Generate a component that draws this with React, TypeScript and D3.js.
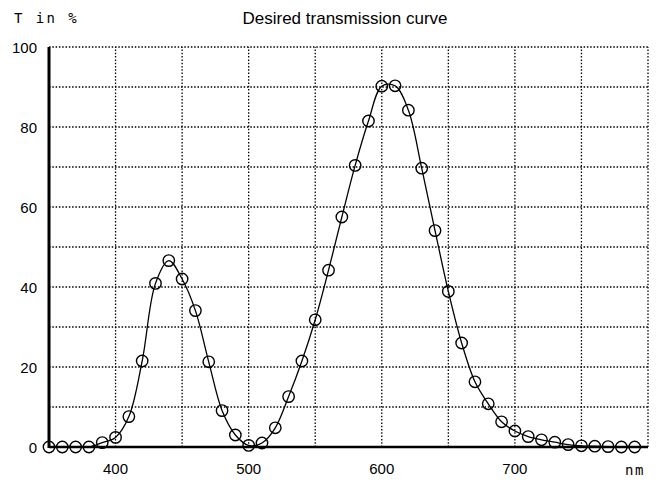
import React, { useRef, useEffect } from "react";
import * as d3 from "d3";

const wavelengths = d3.range(350, 800, 10);
const transmission = [
  0, 0, 0, 0, 1.1, 2.4, 7.6, 21.5, 40.9, 46.6,
  42, 34.1, 21.3, 9.1, 3, 0.4, 1, 4.8, 12.6, 21.5,
  31.8, 44.2, 57.5, 70.4, 81.5, 90.2, 90.3, 84.2, 69.7, 54.1,
  38.9, 26, 16.3, 10.8, 6.3, 4, 2.6, 1.8, 1.2, 0.6,
  0.3, 0.2, 0.1, 0, 0,
];
const xTickLabels = [400, 500, 600, 700];
const yTickLabels = [0, 20, 40, 60, 80, 100];

const App = () => {
  const svgRef = useRef(null);

  useEffect(() => {
    const svg = d3.select(svgRef.current);
    svg.selectAll("*").remove();

    const width = 656;
    const height = 480;
    const margin = { top: 47, right: 8, bottom: 33, left: 49 };

    const x = d3.scaleLinear().domain([350, 800]).range([margin.left, width - margin.right]);
    const y = d3.scaleLinear().domain([0, 100]).range([height - margin.bottom, margin.top]);

    const font = "'Liberation Sans', Arial, sans-serif";
    const mono = "'DejaVu Sans Mono', monospace";

    // dotted grid
    const grid = svg.append("g")
      .attr("stroke", "#000")
      .attr("stroke-width", 1.3)
      .attr("stroke-dasharray", "1.5,1.8");
    grid.selectAll(".vgrid")
      .data(d3.range(400, 801, 50))
      .enter()
      .append("line")
      .attr("x1", d => x(d))
      .attr("x2", d => x(d))
      .attr("y1", y(0))
      .attr("y2", y(100));
    grid.selectAll(".hgrid")
      .data(d3.range(10, 101, 10))
      .enter()
      .append("line")
      .attr("x1", x(350))
      .attr("x2", x(800))
      .attr("y1", d => y(d))
      .attr("y2", d => y(d));

    // axes lines
    svg.append("line")
      .attr("x1", x(350)).attr("x2", x(800))
      .attr("y1", y(0)).attr("y2", y(0))
      .attr("stroke", "#000").attr("stroke-width", 2.5);
    svg.append("line")
      .attr("x1", x(350)).attr("x2", x(350))
      .attr("y1", y(0) + 1).attr("y2", y(100))
      .attr("stroke", "#000").attr("stroke-width", 3);

    // tick labels
    svg.selectAll(".ylab")
      .data(yTickLabels)
      .enter()
      .append("text")
      .attr("x", 37)
      .attr("y", d => y(d) + 5.5)
      .attr("text-anchor", "end")
      .attr("font-family", font)
      .attr("font-size", 15)
      .text(d => d);

    svg.selectAll(".xlab")
      .data(xTickLabels)
      .enter()
      .append("text")
      .attr("x", d => x(d))
      .attr("y", 474)
      .attr("text-anchor", "middle")
      .attr("font-family", font)
      .attr("font-size", 15)
      .text(d => d);

    svg.append("text")
      .attr("x", 635)
      .attr("y", 475)
      .attr("text-anchor", "middle")
      .attr("font-family", mono)
      .attr("font-size", 14)
      .attr("letter-spacing", 1.5)
      .text("nm");

    svg.append("text")
      .attr("x", 14)
      .attr("y", 23)
      .attr("font-family", mono)
      .attr("font-size", 14)
      .attr("letter-spacing", 2.4)
      .text("T in %");

    svg.append("text")
      .attr("x", 345)
      .attr("y", 24)
      .attr("text-anchor", "middle")
      .attr("font-family", font)
      .attr("font-size", 17)
      .text("Desired transmission curve");

    // curve
    const pts = wavelengths.map((w, i) => [w, transmission[i]]);
    const line = d3.line()
      .x(d => x(d[0]))
      .y(d => y(d[1]))
      .curve(d3.curveCatmullRom.alpha(0.5));

    svg.append("path")
      .datum(pts)
      .attr("d", line)
      .attr("fill", "none")
      .attr("stroke", "#000")
      .attr("stroke-width", 1.3);

    svg.selectAll(".pt")
      .data(pts)
      .enter()
      .append("circle")
      .attr("cx", d => x(d[0]))
      .attr("cy", d => y(d[1]))
      .attr("r", 5.7)
      .attr("fill", "none")
      .attr("stroke", "#000")
      .attr("stroke-width", 1.4);
  }, []);

  return (
    <svg
      ref={svgRef}
      width={656}
      height={480}
      style={{ position: "absolute", left: 0, top: 0, background: "#fff" }}
    ></svg>
  );
};

export default App;
